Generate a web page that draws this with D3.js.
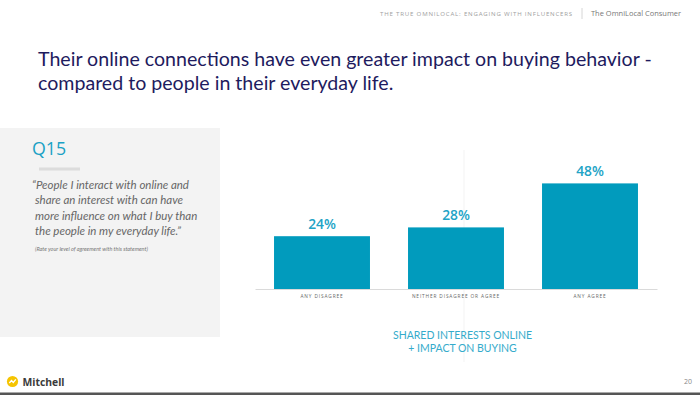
<!DOCTYPE html>
<html>
<head>
<meta charset="utf-8">
<script src="https://cdn.jsdelivr.net/npm/d3@7"></script>
<style>
  body { margin: 0; background: #fff; }
  svg { display: block; }
</style>
</head>
<body>
<div id="chart"></div>
<script>
// data
const categories = ['ANY DISAGREE', 'NEITHER DISAGREE OR AGREE', 'ANY AGREE'];
const values = [24, 28, 48];
const valueLabels = ['24%', '28%', '48%'];

const titleLines = [
  'Their online connections have even greater impact on buying behavior -',
  'compared to people in their everyday life.'
];
const quoteLines = [
  '\u201CPeople I interact with online and',
  'share an interest with can have',
  'more influence on what I buy than',
  'the people in my everyday life.\u201D'
];
const subtitleLines = ['SHARED INTERESTS ONLINE', '+ IMPACT ON BUYING'];

const W = 700, H = 395;
const svg = d3.select('#chart').append('svg')
  .attr('width', W)
  .attr('height', H);

svg.append('rect').attr('width', W).attr('height', H).attr('fill', '#fff');

// shrink/grow font so text spans a given width
function fitWidth(sel, target) {
  const node = sel.node();
  const fs = parseFloat(sel.attr('font-size'));
  const w = node.getComputedTextLength();
  sel.attr('font-size', (fs * target / w).toFixed(2));
}

// header
const h1 = svg.append('text')
  .attr('x', 573).attr('y', 15.5)
  .attr('text-anchor', 'end')
  .attr('font-family', 'Open Sans, sans-serif')
  .attr('font-size', 5.6)
  .attr('letter-spacing', 0.8)
  .attr('fill', '#a0a0a0')
  .text('THE TRUE OMNILOCAL: ENGAGING WITH INFLUENCERS');
fitWidth(h1, 196);
svg.append('line')
  .attr('x1', 582).attr('x2', 582).attr('y1', 8).attr('y2', 19)
  .attr('stroke', '#ccc').attr('stroke-width', 0.8);
const h2 = svg.append('text')
  .attr('x', 591).attr('y', 16)
  .attr('font-family', 'Open Sans, sans-serif')
  .attr('font-size', 7.6)
  .attr('fill', '#777')
  .text('The OmniLocal Consumer');
fitWidth(h2, 90);

// title
const title = svg.append('g');
const t1 = title.append('text')
  .attr('x', 38).attr('y', 66)
  .attr('font-family', 'Lato, sans-serif')
  .attr('font-size', 20)
  .attr('fill', '#1e1b5e')
  .text(titleLines[0]);
fitWidth(t1, 614);
title.append('text')
  .attr('x', 38).attr('y', 90)
  .attr('font-family', 'Lato, sans-serif')
  .attr('font-size', t1.attr('font-size'))
  .attr('fill', '#1e1b5e')
  .text(titleLines[1]);

// left panel
svg.append('rect')
  .attr('x', 0).attr('y', 128).attr('width', 220).attr('height', 209)
  .attr('fill', '#f3f3f3');
svg.append('text')
  .attr('x', 32).attr('y', 155)
  .attr('font-family', 'Open Sans, sans-serif')
  .attr('font-size', 17.8)
  .attr('font-weight', 500)
  .attr('fill', '#1aa1c5')
  .text('Q15');
svg.append('rect')
  .attr('x', 39).attr('y', 167.5).attr('width', 41).attr('height', 3)
  .attr('fill', '#dcdcdc');

const quote = svg.append('g');
quoteLines.forEach((line, i) => {
  const t = quote.append('text')
    .attr('x', i === 0 ? 32 : 35)
    .attr('y', 188.5 + i * 15.6)
    .attr('font-family', 'Lato, sans-serif')
    .attr('font-style', 'italic')
    .attr('font-size', 11.5)
    .attr('fill', '#666')
    .text(line);
  if (i === 0) fitWidth(t, 157);
});
quote.selectAll('text').attr('font-size', quote.select('text').attr('font-size'));

svg.append('text')
  .attr('x', 35).attr('y', 250.5)
  .attr('font-family', 'Lato, sans-serif')
  .attr('font-style', 'italic')
  .attr('font-size', 5.5)
  .attr('fill', '#777')
  .text('(Rate your level of agreement with this statement)');

// faint guide line from the slide
svg.append('line')
  .attr('x1', 464).attr('x2', 464).attr('y1', 150).attr('y2', 362)
  .attr('stroke', '#f0f0f0').attr('stroke-width', 0.8);

// chart
const x = d3.scaleBand()
  .domain(categories)
  .range([255, 657])
  .paddingInner(0.284)
  .paddingOuter(0.142);

const y = d3.scaleLinear()
  .domain([0, 50])
  .range([289, 179]);

svg.append('g')
  .selectAll('rect')
  .data(values)
  .join('rect')
  .attr('x', (d, i) => x(categories[i]))
  .attr('y', d => y(d))
  .attr('width', x.bandwidth())
  .attr('height', d => y(0) - y(d))
  .attr('fill', '#019bbd');

svg.append('g')
  .selectAll('text')
  .data(values)
  .join('text')
  .attr('x', (d, i) => x(categories[i]) + x.bandwidth() / 2)
  .attr('y', d => y(d) - 7.5)
  .attr('text-anchor', 'middle')
  .attr('font-family', 'Open Sans, sans-serif')
  .attr('font-size', 13.8)
  .attr('font-weight', 600)
  .attr('fill', '#22a3c6')
  .text((d, i) => valueLabels[i]);

const axis = svg.append('g')
  .attr('transform', `translate(0,${y(0)})`)
  .call(d3.axisBottom(x).tickSize(0).tickSizeOuter(0).tickPadding(6));
axis.select('.domain').attr('stroke', '#dadada').attr('stroke-width', 1);
axis.selectAll('text')
  .attr('font-family', 'Open Sans, sans-serif')
  .attr('font-size', 4.8)
  .attr('letter-spacing', 0.85)
  .attr('fill', '#666');

// subtitle under chart
svg.append('g')
  .selectAll('text')
  .data(subtitleLines)
  .join('text')
  .attr('x', 462.5)
  .attr('y', (d, i) => 339 + i * 12.5)
  .attr('text-anchor', 'middle')
  .attr('font-family', 'Lato, sans-serif')
  .attr('font-size', 10.5)
  .attr('fill', '#35abcb')
  .text(d => d);

// footer
const logo = svg.append('g').attr('transform', 'translate(12.5,381.5)');
logo.append('circle').attr('r', 5.6).attr('fill', '#f5c400');
logo.append('path')
  .attr('d', 'M-3.2,1.5 L-1,-1 L0.8,1 L3.3,-2.2')
  .attr('fill', 'none').attr('stroke', '#fff').attr('stroke-width', 1.3);
const brand = svg.append('text')
  .attr('x', 22.5).attr('y', 385.5)
  .attr('font-family', 'Open Sans, sans-serif')
  .attr('font-weight', 'bold')
  .attr('font-size', 10)
  .attr('fill', '#3b3b3b')
  .text('Mitchell');
fitWidth(brand, 42);
svg.append('text')
  .attr('x', 692).attr('y', 384)
  .attr('text-anchor', 'end')
  .attr('font-family', 'Open Sans, sans-serif')
  .attr('font-size', 7)
  .attr('fill', '#888')
  .text('20');
svg.append('rect')
  .attr('x', 0).attr('y', 392.5).attr('width', W).attr('height', 2.5)
  .attr('fill', '#555');
</script>
</body>
</html>
